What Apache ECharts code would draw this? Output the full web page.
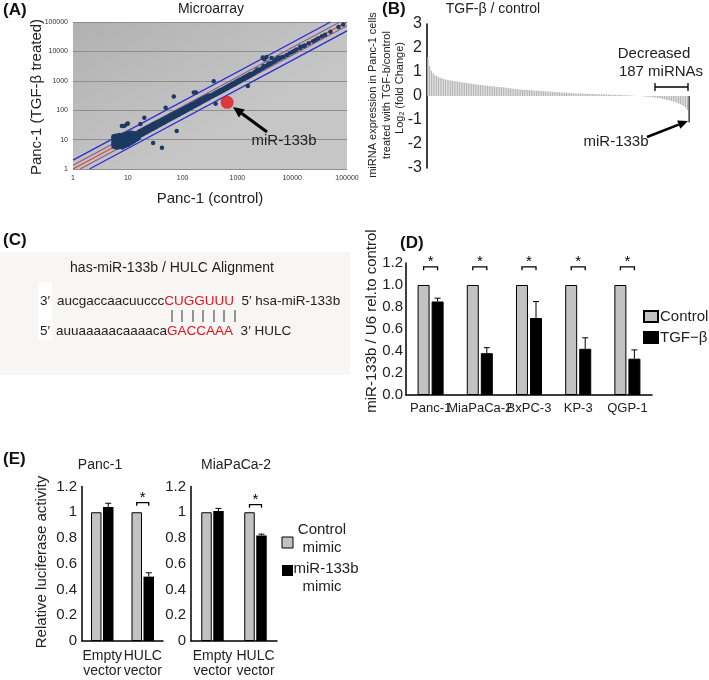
<!DOCTYPE html>
<html><head><meta charset="utf-8">
<script src="https://cdn.jsdelivr.net/npm/echarts/dist/echarts.min.js"></script>
<style>html,body{margin:0;padding:0;background:#fff}#c{width:709px;height:680px}</style>
</head><body><div id="c"></div>
<script>
const FONT = "'Liberation Sans', Arial, sans-serif";

// ---------- Panel A : microarray scatter ----------
const maTicks = ['1','10','100','1000','10000','100000'];
const maPoints = [
 [5.5,5.8],[5.5,6.5],[5.5,7.3],[5.5,8.2],[5.5,9.2],[5.5,10.5],[5.5,12],[5.5,13],
 [6,5.5],[6,6.2],[6,7],[6,7.8],[6,8.8],[6,9.8],[6,11],[6,12.5],[6,13.5],
 [6.5,5.4],[6.5,6],[6.5,6.8],[6.5,7.6],[6.5,8.5],[6.5,9.5],[6.5,10.8],[6.5,12.2],[6.5,13.5],
 [7,5.6],[7,6.4],[7,7.2],[7,8],[7,9],[7,10.2],[7,11.5],[7,13],[7,14.2],
 [7.5,5.8],[7.5,6.6],[7.5,7.5],[7.5,8.4],[7.5,9.4],[7.5,10.6],[7.5,12],[7.5,13.6],
 [8,5.4],[8,6],[8,6.9],[8,7.8],[8,8.8],[8,10],[8,11.3],[8,12.8],[8,14.5],
 [8.5,6.3],[8.5,7.2],[8.5,8.2],[8.5,9.3],[8.5,10.5],[8.5,11.8],[8.5,13.4],
 [9,6],[9,6.7],[9,7.6],[9,8.6],[9,9.8],[9,11],[9,12.5],[9,14],[9,15.5],
 [9.5,7],[9.5,8],[9.5,9],[9.5,10.3],[9.5,11.7],[9.5,13.2],
 [10,6.5],[10,7.4],[10,8.4],[10,9.6],[10,10.9],[10,12.3],[10,14],[10,16],
 [11,7.3],[11,8.2],[11,9.4],[11,10.7],[11,12],[11,13.6],[11,15.4],[11,17],
 [12,8],[12,9],[12,10.3],[12,11.7],[12,13.2],[12,15],[12,17],
 [13,8.8],[13,10],[13,11.5],[13,13],[13,14.8],
 [14,9.7],[14,11],[14,12.6],[14,14.4],[14,16.5],
 [15,10.5],[15,12],[15,13.8],[15,15.8],[16,11.5],
 [16,13],[16,15.5],[16,18],[17,14],[17,16.5],[17,19.5],[18,14.5],[18,17],[18,20],
 [19,15.5],[19,18],[19,21.5],[20,16.5],[20,19],[20,22.5],[21,17],[21,20],[21,24],
 [22,18],[22,21],[22,25],[23,19],[23,22.5],[23,26.5],[25,20.5],[25,24],[25,28],
 [26,21.5],[26,25],[26,29.5],[28,23],[28,27],[28,31],[29,24],[29,28],[29,33],
 [30,25],[30,29],[30,34],[31,26],[31,30.5],[31,35],[33,27],[33,32],[33,37],
 [34,28.5],[34,33],[34,38],[36,30],[36,35],[36,40],[38,31.5],[38,36.5],[38,42],
 [40,33],[40,38],[40,44],[42,35],[42,40],[42,46],[44,37],[44,42],[44,48],
 [46,38],[46,44],[46,50],[48,40],[48,46],[48,53],[50,42],[50,48],[50,55],
 [52,44],[52,50],[52,57],[55,46],[55,52],[55,60],[57,48],[57,55],[57,62],
 [60,50],[60,57],[60,66],[62,52],[62,60],[62,68],[65,55],[65,62],[65,71],
 [68,57],[68,65],[68,74],[72,60],[72,68],[72,78],[75,63],[75,71],[75,80],
 [78,66],[78,74],[78,85],[82,69],[82,78],[82,88],[86,72],[86,82],[86,93],
 [90,76],[90,86],[90,97],[95,80],[95,90],[95,102],[100,84],[100,95],[100,107],
 [105,88],[105,100],[105,112],[110,93],[110,104],[110,117],[115,97],[115,109],[115,123],
 [120,101],[120,114],[120,128],[128,108],[128,121],[128,136],[135,114],[135,128],[135,143],
 [142,120],[142,135],[142,152],[150,127],[150,142],[150,160],[160,136],[160,152],[160,170],
 [170,144],[170,162],[170,180],[180,153],[180,171],[180,190],[190,162],[190,180],[190,200],
 [200,170],[200,190],[200,212],[210,178],[210,200],[210,225],[225,192],[225,214],[225,240],
 [240,205],[240,228],[240,255],[255,218],[255,243],[255,270],[270,230],[270,258],[270,285],
 [285,243],[285,270],[285,300],[300,255],[300,285],[300,318],
 [320,280],[320,305],[340,290],[340,330],[360,310],[360,345],[380,330],[380,370],
 [400,345],[400,385],[420,360],[420,410],[440,380],[440,425],[470,400],[470,455],
 [490,420],[490,470],[520,450],[520,500],[550,470],[550,530],[580,500],[580,560],
 [610,530],[610,590],[650,560],[650,630],[680,590],[680,655],[720,620],[720,700],
 [760,660],[760,735],[800,700],[800,780],[850,740],[850,820],[900,780],[900,880],
 [950,830],[950,920],[1000,870],[1000,980],[1050,920],[1050,1020],[1100,960],[1100,1080],
 [1170,1020],[1170,1140],[1250,1100],[1250,1230],[1320,1160],[1320,1290],[1400,1230],[1400,1380],
 [1500,1320],[1500,1460],[1600,1400],[1600,1560],[1700,1500],[1700,1660],[1800,1600],[1800,1750],
 [1900,1700],[2000,1800],[2100,1900],[2100,2050],[2300,2100],[2300,2400],[2450,2250],[2600,2400],
 [2800,2600],[3000,2800],[3000,3200],[3300,3100],[3500,3300],[3700,3500],[3700,3900],[4000,3800],
 [4200,4000],[4600,4400],[5000,4800],[5000,5300],[5600,5400],[5600,6200],[6000,5800],
 [6500,6300],[7000,6600],[8000,7600],[9000,8700],[10000,9500],[11000,10500],[12000,11500],
 [14000,13000],[14000,14500],[16000,15000],[17000,16000],[20000,19000],[24000,22000],
 [27000,25000],[30000,28000],[35000,33000],[40000,37000],[50000,47000],[70000,68000],[85000,82000],
 [7.8,29],[8.6,29],[9.6,33],[10,35],[17,34],[20,55],[29,7.6],[42,5.3],[78,19.6],
 [69,290],[49,120],[160,400],[175,400],[370,960],[400,165],[1550,660],
 [2900,6200],[3400,6500],[4200,6000],[3100,5400]
];
const maMir133b = [[650,185]];
const maLineUp2 = [[1,2],[50000,100000]];
const maLineUp15 = [[1,1.35],[74000,100000]];
const maLineEq = [[1,1],[100000,100000]];
const maLineDn15 = [[1.35,1],[100000,74000]];
const maLineDn2 = [[2,1],[100000,50000]];

// ---------- Panel B : sorted fold change ----------
const bTicks = ['-3','-2','-1','0','1','2','3'];
const bValues = [
 1.62,1.25,1.05,0.95,0.88,0.83,0.79,0.76,0.74,0.71,
 0.69,0.68,0.66,0.65,0.64,0.62,0.61,0.60,0.58,0.57,
 0.56,0.55,0.54,0.53,0.52,0.51,0.50,0.49,0.48,0.47,
 0.46,0.455,0.45,0.44,0.43,0.42,0.41,0.405,0.40,0.39,
 0.38,0.37,0.365,0.36,0.35,0.34,0.33,0.32,0.31,0.30,
 0.29,0.28,0.275,0.27,0.265,0.26,0.25,0.245,0.24,0.235,
 0.23,0.225,0.22,0.215,0.21,0.205,0.20,0.195,0.19,0.185,
 0.18,0.175,0.17,0.165,0.16,0.155,0.15,0.145,0.14,0.135,
 0.13,0.125,0.12,0.115,0.11,0.108,0.105,0.102,0.10,0.098,
 0.095,0.092,0.09,0.087,0.085,0.082,0.08,0.077,0.075,0.072,
 0.07,0.067,0.065,0.062,0.06,0.057,0.055,0.052,0.05,0.047,
 0.044,0.04,0.036,0.032,0.028,0.024,0.02,0.015,0.01,0.006,
 0.002,-0.003,-0.008,-0.014,-0.02,-0.027,-0.035,-0.043,-0.052,-0.062,
 -0.072,-0.083,-0.095,-0.108,-0.122,-0.137,-0.153,-0.17,-0.19,-0.21,
 -0.23,-0.255,-0.28,-0.31,-0.34,-0.38,-0.43,-0.49,-0.58,-1.1
];
const bMirIndex = 149;
const bIndex = bValues.map((v, i) => String(i));

// ---------- Panel D : qPCR ----------
const cellLines = ['Panc-1','MiaPaCa-2','BxPC-3','KP-3','QGP-1'];
const dControl = [1.0,1.0,1.0,1.0,1.0];
const dTgf = [0.85,0.38,0.70,0.42,0.33];
const dTgfErr = [0.03,0.05,0.15,0.10,0.08];
const dSigLevel = [1.165,1.165,1.165,1.165,1.165];
const dTicks = ['0.0','0.2','0.4','0.6','0.8','1.0','1.2'];

// ---------- Panel E : luciferase ----------
const eCats = ['Empty\nvector','HULC\nvector'];
const eTicks = ['0','0.2','0.4','0.6','0.8','1','1.2'];
const ePancCtrl = [1.0,1.0];
const ePancMir = [1.04,0.50];
const ePancMirErr = [0.03,0.03];
const ePancSig = [[1,1.075]];
const eMiaCtrl = [1.0,1.0];
const eMiaMir = [1.01,0.82];
const eMiaMirErr = [0.02,0.01];
const eMiaSig = [[1,1.06]];

// ---------- helpers ----------
function errRender(off, cap){
  return function(params, api){
    const i = api.value(0);
    const top = api.coord([i, api.value(2)]);
    const base = api.coord([i, api.value(1)]);
    const x = top[0] + off;
    return {type:'group', children:[
      {type:'line', shape:{x1:x,y1:base[1],x2:x,y2:top[1]}, style:{stroke:'#000',lineWidth:1}},
      {type:'line', shape:{x1:x-cap,y1:top[1],x2:x+cap,y2:top[1]}, style:{stroke:'#000',lineWidth:1}}
    ]};
  };
}
function sigRender(off, tick){
  return function(params, api){
    const i = api.value(0);
    const p = api.coord([i, api.value(1)]);
    const t = api.coord([i, api.value(1) - tick]);
    const x1 = p[0] - off, x2 = p[0] + off;
    return {type:'group', children:[
      {type:'polyline', shape:{points:[[x1,t[1]],[x1,p[1]],[x2,p[1]],[x2,t[1]]]}, style:{stroke:'#000',lineWidth:1.3,fill:null}},
      {type:'text', x:(x1+x2)/2, y:p[1]+3, style:{text:'*', fontSize:15, fontFamily:FONT, fill:'#000', textAlign:'center', textVerticalAlign:'bottom'}}
    ]};
  };
}
function txt(x, y, text, size, o){
  o = o || {};
  return {type:'text', x:x, y:y, rotation:o.rot||0, z:50,
    style:{text:text, fontSize:size, fontFamily:FONT, fontWeight:o.bold?'bold':'normal',
      fill:o.fill||'#222', textAlign:o.align||'center', textVerticalAlign:'middle'}};
}
function arrow(x1,y1,x2,y2,lw,hl,hw){
  const dx=x2-x1, dy=y2-y1, L=Math.hypot(dx,dy), ux=dx/L, uy=dy/L;
  const bx=x2-ux*hl, by=y2-uy*hl, nx=-uy, ny=ux;
  return [
    {type:'line', z:50, shape:{x1:x1,y1:y1,x2:bx,y2:by}, style:{stroke:'#000',lineWidth:lw}},
    {type:'polygon', z:50, shape:{points:[[x2,y2],[bx+nx*hw/2,by+ny*hw/2],[bx-nx*hw/2,by-ny*hw/2]]}, style:{fill:'#000'}}
  ];
}
const rotV = Math.PI/2;

const catAxisBase = (grid, data, lab) => ({
  type:'category', gridIndex:grid, data:data,
  axisLine:{show:true, lineStyle:{color:'#000', width:1.5}},
  axisTick:{show:false},
  axisLabel:Object.assign({color:'#222', fontFamily:FONT, interval:0}, lab)
});
const valAxis = (grid, ticks, size, margin) => ({
  type:'value', gridIndex:grid, min:0, max:1.2, interval:0.2,
  axisLine:{show:true, lineStyle:{color:'#000', width:1.5}}, axisTick:{show:false}, splitLine:{show:false},
  axisLabel:{fontSize:size, color:'#222', fontFamily:FONT, margin:margin, formatter:v=>ticks[Math.round(v/0.2)]}
});

const option = {
  animation:false,
  backgroundColor:'#fff',
  grid:[
    {left:73, top:22, width:274, height:147, show:true, borderWidth:0, outerBoundsMode:'none',
      backgroundColor:{type:'linear',x:0,y:0,x2:0.3,y2:1,colorStops:[{offset:0,color:'#b1b1b1'},{offset:1,color:'#c6c6c6'}]}},
    {left:427, top:24, width:263, height:144, outerBoundsMode:'none'},
    {left:406, top:263, width:246, height:132, outerBoundsMode:'none'},
    {left:82, top:486.5, width:81, height:154.5, outerBoundsMode:'none'},
    {left:191, top:486.5, width:86, height:154.5, outerBoundsMode:'none'}
  ],
  xAxis:[
    {type:'log', logBase:10, gridIndex:0, min:1, max:100000,
      axisLine:{show:false}, axisTick:{show:false}, splitLine:{show:false},
      axisLabel:{fontSize:7, color:'#333', fontFamily:FONT, margin:6,
        formatter:v=>maTicks[Math.round(Math.log10(v))]}},
    {type:'category', gridIndex:1, data:bIndex, show:false},
    catAxisBase(2, cellLines, {fontSize:13, margin:7}),
    catAxisBase(3, eCats, {fontSize:14, margin:8, lineHeight:15}),
    catAxisBase(4, eCats, {fontSize:14, margin:8, lineHeight:15})
  ],
  yAxis:[
    {type:'log', logBase:10, gridIndex:0, min:1, max:100000,
      axisLine:{show:false}, axisTick:{show:false},
      splitLine:{show:true, lineStyle:{color:'#8e8e8e', width:1}},
      axisLabel:{fontSize:7, color:'#333', fontFamily:FONT, margin:5,
        formatter:v=>maTicks[Math.round(Math.log10(v))]}},
    {type:'value', gridIndex:1, min:-3, max:3, interval:1,
      axisLine:{show:true, lineStyle:{color:'#000', width:1.5}}, axisTick:{show:false}, splitLine:{show:false},
      axisLabel:{fontSize:16, color:'#222', fontFamily:FONT, margin:5, formatter:v=>bTicks[Math.round(v)+3]}},
    valAxis(2, dTicks, 15, 3),
    valAxis(3, eTicks, 15, 5),
    valAxis(4, eTicks, 15, 5)
  ],
  legend:[
    {left:643, top:309, orient:'vertical', itemWidth:14, itemHeight:11, itemGap:6, padding:0, icon:'rect',
      data:['Control','TGF−β'], textStyle:{fontSize:15, fontFamily:FONT, color:'#222', padding:[0,0,0,-3]}}
  ],
  series:[
    // A
    {type:'line', xAxisIndex:0, yAxisIndex:0, data:maLineUp2, showSymbol:false, z:1, lineStyle:{color:'#2b2bd6', width:1.3}},
    {type:'line', xAxisIndex:0, yAxisIndex:0, data:maLineUp15, showSymbol:false, z:1, lineStyle:{color:'#8c5a96', width:1.1}},
    {type:'line', xAxisIndex:0, yAxisIndex:0, data:maLineEq, showSymbol:false, z:1, lineStyle:{color:'#e0442a', width:1.1}},
    {type:'line', xAxisIndex:0, yAxisIndex:0, data:maLineDn15, showSymbol:false, z:1, lineStyle:{color:'#8c5a96', width:1.1}},
    {type:'line', xAxisIndex:0, yAxisIndex:0, data:maLineDn2, showSymbol:false, z:1, lineStyle:{color:'#2b2bd6', width:1.3}},
    {type:'scatter', xAxisIndex:0, yAxisIndex:0, data:maPoints, symbolSize:4.5, z:3, itemStyle:{color:'#1d3a62', opacity:1}},
    {type:'scatter', xAxisIndex:0, yAxisIndex:0, data:maMir133b, symbolSize:13, z:4, itemStyle:{color:'#e3141c'}},
    // B
    {type:'bar', xAxisIndex:1, yAxisIndex:1, barCategoryGap:'30%',
      data:bValues.map((v,i)=> i===bMirIndex ? {value:v, itemStyle:{color:'#111'}} : v),
      itemStyle:{color:'#b5b5b5'}},
    // D
    {type:'bar', name:'Control', xAxisIndex:2, yAxisIndex:2, data:dControl, barWidth:12, barGap:'17%',
      itemStyle:{color:'#c2c2c2', borderColor:'#000', borderWidth:1}},
    {type:'bar', name:'TGF−β', xAxisIndex:2, yAxisIndex:2, data:dTgf, barWidth:12, barGap:'17%',
      itemStyle:{color:'#000', borderColor:'#000', borderWidth:1}},
    {type:'custom', xAxisIndex:2, yAxisIndex:2, renderItem:errRender(7,3), z:5,
      data:dTgf.map((v,i)=>[i, v, v+dTgfErr[i]])},
    {type:'custom', xAxisIndex:2, yAxisIndex:2, renderItem:sigRender(7,0.03), z:5,
      data:dSigLevel.map((v,i)=>[i, v])},
    // E left
    {type:'bar', name:'Control mimic', xAxisIndex:3, yAxisIndex:3, data:ePancCtrl, barWidth:10.5, barGap:'14%',
      itemStyle:{color:'#c2c2c2', borderColor:'#000', borderWidth:1}},
    {type:'bar', name:'miR-133b mimic', xAxisIndex:3, yAxisIndex:3, data:ePancMir, barWidth:10.5, barGap:'14%',
      itemStyle:{color:'#000'}},
    {type:'custom', xAxisIndex:3, yAxisIndex:3, renderItem:errRender(6,3), z:5,
      data:ePancMir.map((v,i)=>[i, v, v+ePancMirErr[i]])},
    {type:'custom', xAxisIndex:3, yAxisIndex:3, renderItem:sigRender(6,0.025), z:5, data:ePancSig},
    // E right
    {type:'bar', name:'Control mimic', xAxisIndex:4, yAxisIndex:4, data:eMiaCtrl, barWidth:10.5, barGap:'14%',
      itemStyle:{color:'#c2c2c2', borderColor:'#000', borderWidth:1}},
    {type:'bar', name:'miR-133b mimic', xAxisIndex:4, yAxisIndex:4, data:eMiaMir, barWidth:10.5, barGap:'14%',
      itemStyle:{color:'#000'}},
    {type:'custom', xAxisIndex:4, yAxisIndex:4, renderItem:errRender(6,3), z:5,
      data:eMiaMir.map((v,i)=>[i, v, v+eMiaMirErr[i]])},
    {type:'custom', xAxisIndex:4, yAxisIndex:4, renderItem:sigRender(6,0.025), z:5, data:eMiaSig}
  ],
  graphic:[].concat(
    [txt(3,10,'(A)',17,{bold:true,align:'left',fill:'#111'}),
     txt(211,9,'Microarray',14),
     txt(37,97,'Panc-1 (TGF-β treated)',15,{rot:rotV}),
     txt(210,199,'Panc-1 (control)',15),
     txt(284,141,'miR-133b',15)],
    arrow(267,132,233,107,3,11,10),
    [txt(382,9,'(B)',17,{bold:true,align:'left',fill:'#111'}),
     txt(493,9,'TGF-β / control',14),
     txt(373,95,'miRNA expression in Panc-1 cells',11,{rot:rotV}),
     txt(387,95,'treated with TGF-b/control',11,{rot:rotV}),
     {type:'text', x:400, y:88, rotation:rotV, z:50, style:{text:'Log{s|2} (fold Change)', fontSize:11, fontFamily:FONT, fill:'#222', textAlign:'center', textVerticalAlign:'middle', rich:{s:{fontSize:7, fontFamily:FONT, fill:'#222', padding:[5,0,0,0]}}}},
     txt(654,54,'Decreased',15),
     txt(661,72,'187 miRNAs',15),
     {type:'polyline', z:50, shape:{points:[[655,83],[655,91],[655,87],[688,87],[688,83],[688,91]]}, style:{stroke:'#000', lineWidth:1.3, fill:null}},
     txt(616,142,'miR-133b',15)],
    arrow(647,137,688,121,2.5,10,9),
    [{type:'rect', z:0, shape:{x:0,y:252,width:350,height:123}, style:{fill:'#f7f6f4'}},
     {type:'rect', z:1, shape:{x:38,y:282,width:14,height:58}, style:{fill:'#ffffff'}},
     txt(3,240,'(C)',17,{bold:true,align:'left',fill:'#111'}),
     txt(172,268,'has-miR-133b / HULC Alignment',14),
     txt(40,301,'3′',13.5,{align:'left'}),
     {type:'text', x:57, y:301, z:50, style:{text:'{k|aucgaccaacuuccc}{r|CUGGUUU}{k|  5′ hsa-miR-133b}', textVerticalAlign:'middle',
       rich:{k:{fontSize:13.5, fontFamily:FONT, fill:'#222'}, r:{fontSize:13.5, fontFamily:FONT, fill:'#e3141c'}}}},
     txt(40,331,'5′',13.5,{align:'left'}),
     {type:'text', x:56, y:331, z:50, style:{text:'{k|auuaaaaacaaaaca}{r|GACCAAA}{k|  3′ HULC}', textVerticalAlign:'middle',
       rich:{k:{fontSize:13.5, fontFamily:FONT, fill:'#222'}, r:{fontSize:13.5, fontFamily:FONT, fill:'#e3141c'}}}}],
    [172,182,193,203,214,224,235].map(x=>({type:'line', z:50, shape:{x1:x,y1:310,x2:x,y2:322}, style:{stroke:'#333', lineWidth:1}})),
    [txt(400,243,'(D)',17,{bold:true,align:'left',fill:'#111'}),
     txt(372,321,'miR-133b / U6 rel.to control',15,{rot:rotV})],
    [txt(3,459,'(E)',17,{bold:true,align:'left',fill:'#111'}),
     txt(100,465,'Panc-1',14),
     txt(236,465,'MiaPaCa-2',14),
     txt(42,562,'Relative luciferase activity',15,{rot:rotV}),
     {type:'rect', z:50, shape:{x:282,y:537,width:11,height:11}, style:{fill:'#c2c2c2', stroke:'#000', lineWidth:1}},
     {type:'rect', z:50, shape:{x:282,y:565,width:11,height:11}, style:{fill:'#000'}},
     txt(322,530,'Control',15), txt(322,548,'mimic',15),
     txt(326,569,'miR-133b',15), txt(322,587,'mimic',15)]
  )
};
const chart = echarts.init(document.getElementById('c'), null, {renderer:'canvas'});
chart.setOption(option);
</script>
</body></html>
